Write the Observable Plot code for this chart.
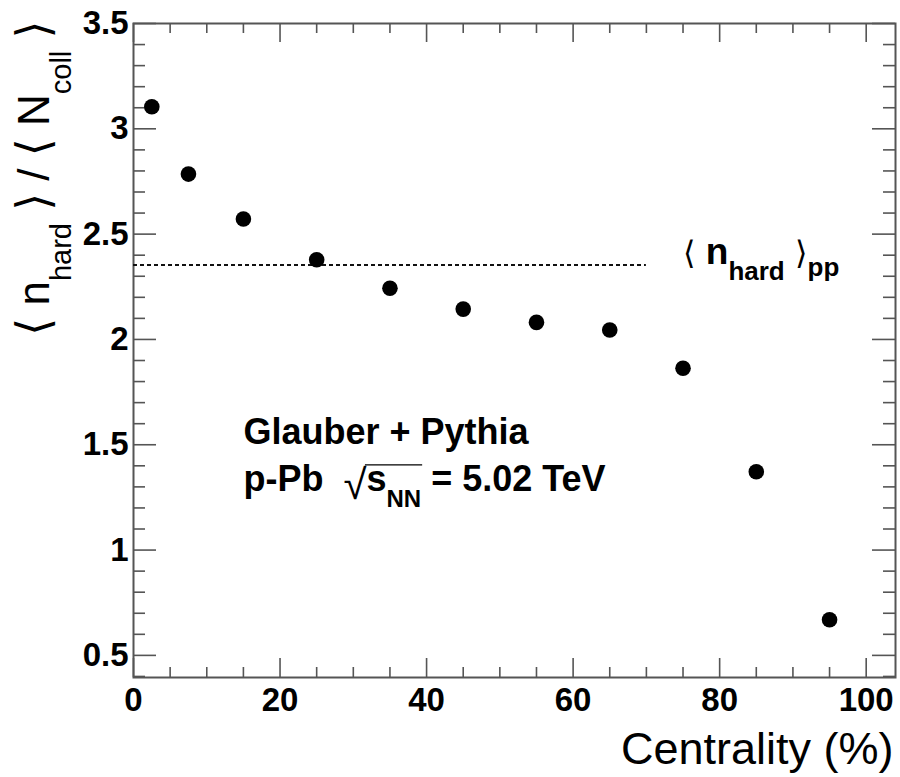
<!DOCTYPE html>
<html><head><meta charset="utf-8">
<script src="https://cdn.jsdelivr.net/npm/d3@7"></script>
<script src="https://cdn.jsdelivr.net/npm/@observablehq/plot@0.6"></script>
<style>body{margin:0;background:#fff} #chart svg{display:block}</style>
</head><body><div id="chart"></div>
<script>
// ---- data ----
const centrality = [2.5, 7.5, 15, 25, 35, 45, 55, 65, 75, 85, 95];
const ratio = [3.105, 2.785, 2.572, 2.378, 2.243, 2.144, 2.081, 2.045, 1.863, 1.372, 0.669];
const ppLevel = 2.354;
const ppRange = [0, 70];
const xMajorTicks = [0, 20, 40, 60, 80, 100];
const yMajorTicks = [0.5, 1, 1.5, 2, 2.5, 3, 3.5];
const xDomain = [0, 104];
const yDomain = [0.395, 3.5];
const xLabel = "Centrality (%)";
const modelLabel = "Glauber + Pythia";
const yLabelParts = [["⟨", "br"], [" ", "main"], ["n", "main"], ["hard", "sub"], [" ", "main"], ["⟩", "br"], [" / ", "main"], ["⟨", "br"], [" ", "main"], ["N", "main"], ["coll", "sub"], [" ", "main"], ["⟩", "br"]];
const systemParts = [["p-Pb  ", "main"], ["√", "sqrt"], ["s", "main"], ["NN", "sub"], [" = 5.02 TeV", "main"]];
const ppParts = [["⟨", "br"], [" ", "main"], ["n", "main"], ["hard", "sub"], [" ", "main"], ["⟩", "br"], ["pp", "sub2"]];
const modelPos = [15, 1.505];
const systemPos = [15, 1.28];
const ppPos = [75, 2.36];

// ---- layout ----
const W = 900, H = 777, mL = 133, mR = 5, mT = 23, mB = 100;
const innerW = W - mL - mR, innerH = H - mT - mB;
const pxX = (xDomain[1] - xDomain[0]) / innerW;
const pxY = (yDomain[1] - yDomain[0]) / innerH;
const xMinor = d3.range(0, 104, 5).filter(v => v % 20 !== 0);
const yMinor = d3.range(4, 36, 1).map(v => v / 10).filter(v => Math.round(v * 10) % 5 !== 0);
const tickColor = "#555";
const points = centrality.map((c, i) => ({c, r: ratio[i]}));
const join = parts => parts.map(p => p[0]).join("");

const [x0, x1] = xDomain, [y0, y1] = yDomain;
const plot = Plot.plot({
  width: W, height: H,
  marginLeft: mL, marginRight: mR, marginTop: mT, marginBottom: mB,
  x: {domain: xDomain},
  y: {domain: yDomain},
  style: {fontFamily: "'Liberation Sans', Arial, Helvetica, sans-serif", background: "white", color: "#000"},
  marks: [
    Plot.ruleX(xMajorTicks, {x: d => d, y1: y0, y2: y0 + 19 * pxY, stroke: tickColor, strokeWidth: 1.6}),
    Plot.ruleX(xMajorTicks, {x: d => d, y1: y1, y2: y1 - 19 * pxY, stroke: tickColor, strokeWidth: 1.6}),
    Plot.ruleX(xMinor, {x: d => d, y1: y0, y2: y0 + 10 * pxY, stroke: tickColor, strokeWidth: 1.6}),
    Plot.ruleX(xMinor, {x: d => d, y1: y1, y2: y1 - 10 * pxY, stroke: tickColor, strokeWidth: 1.6}),
    Plot.ruleY(yMajorTicks, {y: d => d, x1: x0, x2: x0 + 23 * pxX, stroke: tickColor, strokeWidth: 1.6}),
    Plot.ruleY(yMajorTicks, {y: d => d, x1: x1, x2: x1 - 23 * pxX, stroke: tickColor, strokeWidth: 1.6}),
    Plot.ruleY(yMinor, {y: d => d, x1: x0, x2: x0 + 12 * pxX, stroke: tickColor, strokeWidth: 1.6}),
    Plot.ruleY(yMinor, {y: d => d, x1: x1, x2: x1 - 12 * pxX, stroke: tickColor, strokeWidth: 1.6}),
    Plot.frame({stroke: tickColor, strokeWidth: 2}),
    Plot.axisX({ticks: xMajorTicks, tickSize: 0, tickPadding: 10, tickFormat: d => String(d), fontSize: 33, fontWeight: "bold", label: null, anchor: "bottom"}),
    Plot.axisY({ticks: yMajorTicks, tickSize: 0, tickPadding: 5, tickFormat: d => String(d), fontSize: 33, fontWeight: "bold", label: null, anchor: "left"}),
    Plot.ruleY([ppLevel], {y: d => d, x1: ppRange[0], x2: ppRange[1], stroke: "#111", strokeWidth: 2, strokeDasharray: "4,3"}),
    Plot.dot(points, {x: "c", y: "r", r: 7.8, fill: "#000"}),
    Plot.text([modelLabel], {x: modelPos[0], y: modelPos[1], text: d => d, textAnchor: "start", lineAnchor: "bottom", fontSize: 36, fontWeight: "bold"}),
    Plot.text([join(systemParts)], {x: systemPos[0], y: systemPos[1], text: d => d, textAnchor: "start", lineAnchor: "bottom", fontSize: 36, fontWeight: "bold"}),
    Plot.text([join(ppParts)], {x: ppPos[0], y: ppPos[1], text: d => d, textAnchor: "start", lineAnchor: "bottom", fontSize: 36, fontWeight: "bold"}),
    Plot.text([xLabel], {frameAnchor: "bottom-right", text: d => d, textAnchor: "end", lineAnchor: "bottom", dx: -2, dy: 86, fontSize: 45}),
    Plot.text([join(yLabelParts)], {frameAnchor: "top-left", text: d => d, rotate: -90, textAnchor: "end", lineAnchor: "bottom", dx: -85, dy: -3, fontSize: 44})
  ]
});
document.getElementById("chart").append(plot);

// ---- rich text (subscripts, brackets, radical) ----
function richify(parts, roles) {
  const full = join(parts);
  const nodes = [];
  d3.select(plot).selectAll("text").filter(function () { return this.textContent === full; }).each(function () {
    const t = d3.select(this).attr("xml:space", "preserve").style("white-space", "pre");
    t.text(null);
    let shift = 0;
    const spans = {};
    for (const [str, role] of parts) {
      const r = roles[role];
      const ts = t.append("tspan").text(str).attr("font-size", r.size);
      const target = r.shift || 0;
      if (target !== shift) { ts.attr("dy", target - shift); shift = target; }
      if (r.family) ts.attr("font-family", r.family);
      if (r.weight) ts.attr("font-weight", r.weight);
      (spans[role] = spans[role] || []).push(ts.node());
    }
    nodes.push({text: this, spans});
  });
  return nodes;
}
richify(yLabelParts, {
  main: {size: 44}, sub: {size: 29, shift: 22}, br: {size: 46, family: "'DejaVu Sans'"}
});
richify(ppParts, {
  main: {size: 37}, sub: {size: 26, shift: 16}, sub2: {size: 26, shift: 12},
  br: {size: 32, family: "'DejaVu Sans'", weight: "normal"}
});
const sys = richify(systemParts, {
  main: {size: 36}, sqrt: {size: 42, shift: 8, weight: "normal"}, sub: {size: 24, shift: 16}
});
for (const {text, spans} of sys) {
  const sq = spans.sqrt[0], s = spans.main[1], nn = spans.sub[0];
  const sqEnd = sq.getEndPositionOfChar(sq.getNumberOfChars() - 1);
  const nnEnd = nn.getEndPositionOfChar(nn.getNumberOfChars() - 1);
  const base = s.getStartPositionOfChar(0).y;
  const yLine = base - 0.73 * 36;
  d3.select(text.parentNode).append("line")
    .attr("transform", text.getAttribute("transform"))
    .attr("x1", sqEnd.x - 1.5).attr("x2", nnEnd.x + 1)
    .attr("y1", yLine).attr("y2", yLine)
    .attr("stroke", "#000").attr("stroke-width", 1.3);
}
</script></body></html>
